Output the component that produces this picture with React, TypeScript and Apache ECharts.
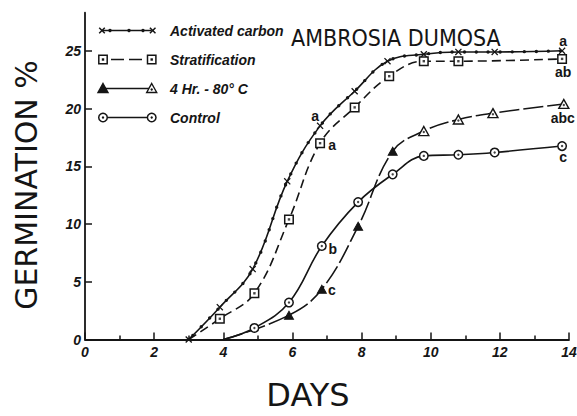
import React, { useEffect, useRef } from 'react';
import * as echarts from 'echarts';

const INK = '#151515';

const xTicks = [0, 2, 4, 6, 8, 10, 12, 14];
const yTicks = [0, 5, 10, 15, 20, 25];
const seriesNames = ['Activated carbon', 'Stratification', '4 Hr. - 80° C', 'Control'];
const chartTitle = 'AMBROSIA DUMOSA';
const xName = 'DAYS';
const yName = 'GERMINATION %';

// Activated carbon
const acDays = [3, 3.9, 4.85, 5.85, 6.8, 7.8, 8.75, 9.8, 10.8, 11.85, 13.8];
const acValues = [0, 2.8, 6.1, 13.7, 18.5, 21.5, 24.1, 24.7, 24.9, 24.9, 25.0];
const acLetters = ['', '', '', '', 'a', '', '', '', '', '', 'a'];

// Stratification
const stDays = [3, 3.9, 4.9, 5.9, 6.8, 7.8, 8.8, 9.8, 10.8, 13.8];
const stValues = [0, 1.8, 4.0, 10.4, 17.0, 20.1, 22.8, 24.1, 24.1, 24.3];
const stLetters = ['', '', '', '', 'a', '', '', '', '', 'ab'];

// 4 Hr. - 80° C
const trDays = [4, 5.9, 6.85, 7.9, 8.9, 9.8, 10.8, 11.8, 13.85];
const trValues = [0, 2.1, 4.35, 9.8, 16.3, 18.05, 19.05, 19.6, 20.4];
const trLetters = ['', '', 'c', '', '', '', '', '', 'abc'];

// Control
const coDays = [4, 4.9, 5.9, 6.85, 7.9, 8.9, 9.8, 10.8, 11.85, 13.8];
const coValues = [0, 1.0, 3.2, 8.1, 11.9, 14.3, 15.9, 16.0, 16.2, 16.75];
const coLetters = ['', '', '', 'b', '', '', '', '', '', 'c'];

const X_PATH = 'path://M0,1.3L1.3,0L5,3.7L8.7,0L10,1.3L6.3,5L10,8.7L8.7,10L5,6.3L1.3,10L0,8.7L3.7,5Z';

const LABEL_FONT = { fontSize: 14, fontWeight: 'bold' as const, color: INK, fontFamily: 'Liberation Sans, Arial, sans-serif' };

function letterLabel(text: string, offset: number[]) {
  if (!text) return undefined;
  return { show: true, formatter: text, position: 'inside', offset, ...LABEL_FONT };
}

export default function App() {
  const ref = useRef<HTMLDivElement>(null);
  useEffect(() => {
    document.body.style.margin = '0';
    const chart = echarts.init(ref.current!, null, { renderer: 'svg' });

    const smooth = 0.4;
    const lw = 1.6;

    const acOffsets: Record<number, number[]> = { 4: [-5, -10], 10: [1, -10] };
    const stOffsets: Record<number, number[]> = { 4: [12, 2], 9: [1, 13] };
    const trOffsets: Record<number, number[]> = { 2: [10, 1], 8: [-1, 14] };
    const coOffsets: Record<number, number[]> = { 3: [11, 3], 9: [1, 11] };

    const acData = acDays.map((d, i) => ({
      value: [d, acValues[i]],
      label: letterLabel(acLetters[i], acOffsets[i] || [0, 0]),
    }));
    const stData = stDays.map((d, i) => ({
      value: [d, stValues[i]],
      symbolSize: i === 0 ? 0 : 8.5,
      label: letterLabel(stLetters[i], stOffsets[i] || [0, 0]),
    }));
    const trFilled = (i: number) => i >= 1 && i <= 4;
    const trData = trDays.map((d, i) => ({
      value: [d, trValues[i]],
      symbolSize: i === 0 ? 0 : trFilled(i) ? [9, 8] : [10, 9],
      itemStyle: trFilled(i)
        ? { color: INK, borderColor: INK, borderWidth: 1 }
        : { color: '#fff', borderColor: INK, borderWidth: 1.4 },
      label: letterLabel(trLetters[i], trOffsets[i] || [0, 0]),
    }));
    const coData = coDays.map((d, i) => ({
      value: [d, coValues[i]],
      symbolSize: i === 0 ? 0 : 8.5,
      label: letterLabel(coLetters[i], coOffsets[i] || [0, 0]),
    }));

    const stDots = stDays.map((d, i) => [d, stValues[i]]).filter((_, i) => i > 0);
    const trDots = trDays.map((d, i) => [d, trValues[i]]).filter((_, i) => i > 0 && !trFilled(i));
    const coDots = coDays.map((d, i) => [d, coValues[i]]).filter((_, i) => i > 0);

    // legend graphics
    const rows = [30.5, 59.5, 88.5, 117.5];
    const L = 103;
    const R = 151.7;
    const g: any[] = [];
    const line = (x1: number, y1: number, x2: number, y2: number, extra: any = {}) => ({
      type: 'line', shape: { x1, y1, x2, y2 }, style: { stroke: INK, lineWidth: lw, ...extra },
    });
    const xMark = (cx: number, cy: number) => {
      const s = 2.8;
      g.push(line(cx - s, cy - s, cx + s, cy + s, { lineWidth: 1.5 }));
      g.push(line(cx - s, cy + s, cx + s, cy - s, { lineWidth: 1.5 }));
    };
    const sqMark = (cx: number, cy: number) => {
      g.push({ type: 'rect', shape: { x: cx - 4.2, y: cy - 4.2, width: 8.4, height: 8.4 }, style: { fill: '#fff', stroke: INK, lineWidth: 1.5 } });
      g.push({ type: 'rect', shape: { x: cx - 1.2, y: cy - 1.2, width: 2.4, height: 2.4 }, style: { fill: INK } });
    };
    const triMark = (cx: number, cy: number, filled: boolean) => {
      g.push({ type: 'polygon', shape: { points: [[cx, cy - 5], [cx + 5, cy + 4], [cx - 5, cy + 4]] }, style: { fill: filled ? INK : '#fff', stroke: INK, lineWidth: 1.4 } });
      if (!filled) g.push({ type: 'circle', shape: { cx, cy: cy + 1, r: 1.2 }, style: { fill: INK } });
    };
    const ciMark = (cx: number, cy: number) => {
      g.push({ type: 'circle', shape: { cx, cy, r: 4.3 }, style: { fill: '#fff', stroke: INK, lineWidth: 1.5 } });
      g.push({ type: 'circle', shape: { cx, cy, r: 1.2 }, style: { fill: INK } });
    };
    // row 1
    g.push(line(L, rows[0], R, rows[0]));
    [110, 129, 143].forEach((x) => g.push({ type: 'circle', shape: { cx: x, cy: rows[0], r: 1.7 }, style: { fill: INK } }));
    xMark(L - 1, rows[0]);
    xMark(R + 1, rows[0]);
    // row 2
    g.push(line(L + 8, rows[1], R - 6, rows[1], { lineDash: [13, 5] }));
    sqMark(L, rows[1]);
    sqMark(R, rows[1]);
    // row 3
    g.push(line(L, rows[2], R, rows[2]));
    triMark(L, rows[2], true);
    triMark(R, rows[2], false);
    // row 4
    g.push(line(L, rows[3], R, rows[3]));
    ciMark(L, rows[3]);
    ciMark(R, rows[3]);
    seriesNames.forEach((n, i) => {
      g.push({
        type: 'text', x: 170, y: rows[i],
        style: { text: n, fill: INK, font: 'italic bold 14px "Liberation Sans", Arial, sans-serif', verticalAlign: 'middle', align: 'left' },
      });
    });
    g.push({
      type: 'text', x: 291, y: 38,
      style: { text: chartTitle, fill: INK, font: '23px "Liberation Sans Narrow", "DejaVu Sans Condensed", sans-serif', verticalAlign: 'middle', align: 'left' },
    });
    g.push({
      type: 'text', x: 308, y: 395,
      style: { text: xName, fill: INK, font: '32px "DejaVu Sans", sans-serif', verticalAlign: 'middle', align: 'center' },
    });
    g.push({
      type: 'text', x: 26, y: 185, rotation: Math.PI / 2,
      style: { text: yName, fill: INK, font: '30px "DejaVu Sans", sans-serif', verticalAlign: 'middle', align: 'center' },
    });

    const axisLabelStyle = {
      fontStyle: 'italic' as const, fontWeight: 'bold' as const, fontSize: 14, color: INK,
      fontFamily: 'Liberation Sans, Arial, sans-serif',
    };

    const option: any = {
      animation: false,
      backgroundColor: '#fff',
      grid: { left: 85, right: 8, top: 12.7, bottom: 76.5, containLabel: false, outerBoundsMode: 'none' },
      xAxis: {
        type: 'value', min: 0, max: 14, interval: 2,
        axisLine: { show: true, lineStyle: { color: INK, width: 1.8 } },
        axisTick: { show: true, inside: true, length: 7, lineStyle: { color: INK, width: 1.5 } },
        minorTick: { show: true, splitNumber: 2, length: 4, lineStyle: { color: INK, width: 1.5 } },
        splitLine: { show: false },
        minorSplitLine: { show: false },
        axisLabel: { ...axisLabelStyle, margin: 5, formatter: (v: number) => (xTicks.includes(v) ? String(v) : '') },
      },
      yAxis: {
        type: 'value', min: 0, max: 28.3, interval: 5,
        axisLine: { show: true, lineStyle: { color: INK, width: 1.8 } },
        axisTick: { show: true, inside: true, length: 7, customValues: yTicks, lineStyle: { color: INK, width: 1.5 } },
        splitLine: { show: false },
        axisLabel: { ...axisLabelStyle, margin: 4, customValues: yTicks },
      },
      graphic: { elements: g },
      series: [
        {
          name: seriesNames[0], type: 'line', data: acData, smooth,
          symbol: X_PATH, symbolSize: 7, showAllSymbol: true,
          itemStyle: { color: INK },
          lineStyle: { color: INK, width: lw },
          z: 3,
        },
        {
          name: 'ac-dots', type: 'line', data: acDays.map((d, i) => [d, acValues[i]]), smooth,
          symbol: 'none', silent: true,
          lineStyle: { color: INK, width: 3.4, type: [0, 12], cap: 'round', dashOffset: 6 },
          z: 3,
        },
        {
          name: seriesNames[1], type: 'line', data: stData, smooth,
          symbol: 'rect', showAllSymbol: true,
          itemStyle: { color: '#fff', borderColor: INK, borderWidth: 1.5 },
          lineStyle: { color: INK, width: lw, type: [9, 5] },
          z: 4,
        },
        {
          name: seriesNames[2], type: 'line', data: trData, smooth,
          symbol: 'triangle', showAllSymbol: true,
          lineStyle: { color: INK, width: lw, type: [20, 4] },
          z: 4,
        },
        {
          name: seriesNames[3], type: 'line', data: coData, smooth,
          symbol: 'circle', showAllSymbol: true,
          itemStyle: { color: '#fff', borderColor: INK, borderWidth: 1.5 },
          lineStyle: { color: INK, width: lw },
          z: 4,
        },
        { name: 'st-dot', type: 'scatter', data: stDots, symbol: 'rect', symbolSize: 2.4, itemStyle: { color: INK }, silent: true, z: 6 },
        { name: 'tr-dot', type: 'scatter', data: trDots, symbol: 'circle', symbolSize: 2.4, symbolOffset: [0, 1], itemStyle: { color: INK }, silent: true, z: 6 },
        { name: 'co-dot', type: 'scatter', data: coDots, symbol: 'circle', symbolSize: 2.4, itemStyle: { color: INK }, silent: true, z: 6 },
      ],
    };
    chart.setOption(option);
    return () => chart.dispose();
  }, []);
  return <div ref={ref} style={{ width: 577, height: 416, background: '#fff' }} />;
}
